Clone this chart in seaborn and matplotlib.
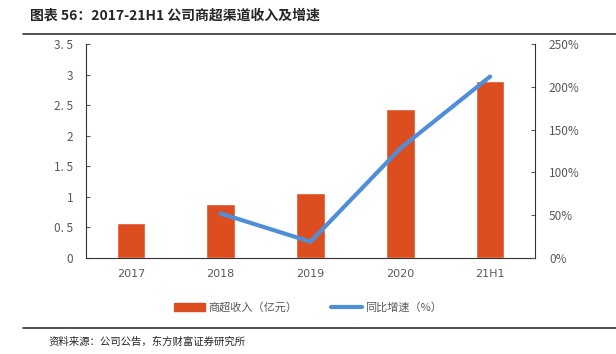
import numpy as np
import pandas as pd
import seaborn as sns
import matplotlib.pyplot as plt
from matplotlib.patches import Patch
from matplotlib.lines import Line2D
from matplotlib.ticker import PercentFormatter

categories = ['2017', '2018', '2019', '2020', '21H1']
revenue = [0.58, 0.89, 1.06, 2.43, 2.90]          # 商超收入（亿元）
growth = [np.nan, 52, 19, 128, 212]              # 同比增速（%）
left_ticks = [0, 0.5, 1, 1.5, 2, 2.5, 3, 3.5]
left_labels = ['0', '0. 5', '1', '1. 5', '2', '2. 5', '3', '3. 5']

sns.set_style('white')
plt.rcParams['font.family'] = ['Noto Sans CJK SC', 'DejaVu Sans']

bar_color = '#DC4E1F'
line_color = '#4F8FD9'
grey = '#595959'

df = pd.DataFrame({'cat': categories, 'pos': np.arange(len(categories)),
                   'revenue': revenue, 'growth': growth})

fig = plt.figure(figsize=(6.16, 3.54), dpi=100)
ax = fig.add_axes([0.1396, 0.2712, 0.7289, 0.6045])
sns.barplot(data=df, x='cat', y='revenue', color=bar_color, width=0.32,
            saturation=1, ax=ax)
ax.set_xlim(-0.5, len(categories) - 0.5)
ax.set_ylim(0, 3.5)
ax.set_yticks(left_ticks)
ax.set_yticklabels(left_labels)
ax.set_xlabel('')
ax.set_ylabel('')
ax.set_xticks(np.arange(len(categories) + 1) - 0.5, minor=True)
ax.tick_params(axis='x', which='major', length=0, labelsize=8, colors=grey, pad=8)
ax.tick_params(axis='x', which='minor', length=4, direction='in', color='#333333')
ax.tick_params(axis='y', length=3, direction='in', labelsize=8.5, colors=grey, pad=9)
for lab in ax.get_xticklabels():
    lab.set_family('DejaVu Sans')

ax2 = ax.twinx()
sns.lineplot(data=df.dropna(), x='pos', y='growth', color=line_color,
             linewidth=3, ax=ax2)
ax2.set_ylim(0, 250)
ax2.set_yticks([0, 50, 100, 150, 200, 250])
ax2.yaxis.set_major_formatter(PercentFormatter(decimals=0))
ax2.set_ylabel('')
ax2.tick_params(axis='y', length=3, direction='in', labelsize=8.5, colors=grey, pad=10)
ax.set_xlim(-0.5, len(categories) - 0.5)

for a in (ax, ax2):
    a.spines['top'].set_visible(False)
    a.spines['left'].set_color('#333333')
    a.spines['right'].set_color('#333333')
    a.spines['bottom'].set_color('#333333')
ax.spines['right'].set_visible(False)
ax2.spines['left'].set_visible(False)
ax2.spines['bottom'].set_visible(False)

handles = [Patch(color=bar_color), Line2D([0], [0], color=line_color, lw=3)]
fig.legend(handles, ['商超收入（亿元）', '同比增速（%）'], loc='center',
           bbox_to_anchor=(0.5, 0.132), ncol=2, frameon=False, fontsize=8,
           labelcolor=grey, handlelength=2.8, handleheight=0.7, columnspacing=3,
           handletextpad=0.3)

fig.text(0.049, 0.955, '图表 56：2017-21H1 公司商超渠道收入及增速', fontsize=10,
         fontweight='bold', va='center', ha='left')
fig.add_artist(Line2D([0.037, 1.0], [0.905, 0.905], color='#333333', lw=1.2))
fig.add_artist(Line2D([0.037, 1.0], [0.073, 0.073], color='#333333', lw=1.2))
fig.text(0.078, 0.036, '资料来源：公司公告，东方财富证券研究所', fontsize=7.5,
         va='center', ha='left')

fig.savefig('out.png', dpi=100)
